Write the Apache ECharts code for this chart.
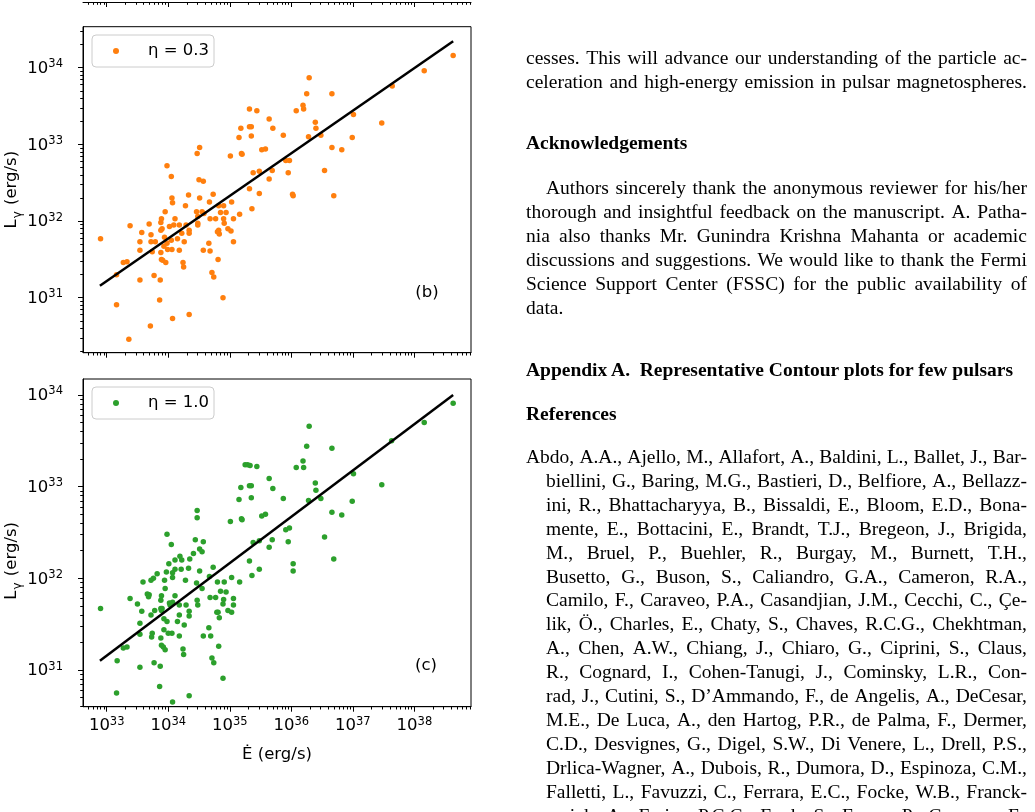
<!DOCTYPE html>
<html>
<head>
<meta charset="utf-8">
<title>Lgamma vs Edot</title>
<script src="https://cdn.jsdelivr.net/npm/echarts@6/dist/echarts.min.js"></script>
<style>
  body { margin: 0; background: #fff; }
  #page { position: relative; width: 1035px; height: 812px; overflow: hidden; }
  #chart { position: absolute; left: 0; top: 0; width: 1035px; height: 812px; }
  .ln { position: absolute; font-family: "Liberation Serif", serif; font-size: 19.5px; line-height: 24px; color: #000; white-space: pre; }
  .ln.j { display: flex; justify-content: space-between; }
  .ln.b { font-weight: bold; }
</style>
</head>
<body>
<div id="page">
  <div id="chart"></div>
</div>
<script>
// log10 of Edot (erg/s) and L_gamma (erg/s), panel (b) eta = 0.3
const logEdotB = [
  38.63, 38.16, 37.64, 37.47, 37.01, 36.99, 36.82, 36.66, 36.69, 36.54,
  36.66, 36.29, 36.25, 36.19, 36.20, 36.08, 36.39, 36.40, 36.28, 36.48,
  35.87, 35.70, 35.64, 35.44, 35.32, 35.32, 35.35, 35.18, 35.15, 35.35,
  35.52, 35.58, 35.19, 35.20, 35.01, 35.91, 35.97, 35.95, 35.69, 35.64,
  35.48, 35.38, 35.48, 35.32, 35.36, 36.02, 36.03, 35.16, 35.06, 35.03,
  35.02, 35.06, 34.97, 34.91, 34.90, 34.94, 34.90, 34.85, 34.83, 34.82,
  34.80, 34.82, 34.77, 34.68, 34.73, 34.67, 34.55, 34.51, 34.46, 34.48,
  34.48, 34.48, 34.50, 34.57, 34.47, 34.51, 34.33, 34.28, 34.34, 34.34,
  34.29, 34.22, 34.18, 34.26, 34.18, 34.15, 34.11, 34.09, 34.06, 34.07,
  34.05, 33.98, 34.02, 34.05, 34.06, 33.99, 33.98, 33.94, 33.95, 33.88,
  33.89, 33.90, 33.88, 33.93, 33.88, 33.89, 33.91, 33.96, 33.87, 33.86,
  33.79, 33.72, 33.69, 33.72, 33.74, 33.57, 33.54, 33.54, 33.38, 33.77,
  33.54, 33.33, 33.27, 33.16, 32.90, 33.16, 33.36, 33.71, 34.07, 34.34,
  34.89, 34.66, 34.57, 34.68, 34.81, 34.71, 34.74, 34.24, 34.25, 34.58
];
const logLB = [
  34.16, 33.96, 33.76, 33.28, 33.39, 33.09, 32.93, 32.96, 32.33, 32.66,
  33.66, 33.87, 33.66, 33.51, 33.46, 33.44, 33.29, 33.21, 33.10, 33.12,
  33.12, 33.21, 33.33, 33.44, 33.46, 33.23, 33.23, 33.21, 33.09, 33.11,
  32.93, 32.94, 32.88, 32.87, 32.85, 32.79, 32.79, 32.63, 32.66, 32.55,
  32.65, 32.63, 32.36, 32.42, 32.16, 32.35, 32.33, 32.09, 32.03, 32.25,
  31.87, 31.73, 31.90, 31.97, 32.03, 32.11, 32.20, 32.11, 31.83, 31.88,
  31.86, 32.20, 32.03, 32.03, 32.35, 32.25, 32.12, 32.30, 32.12, 32.06,
  31.97, 31.95, 32.54, 32.52, 32.88, 32.96, 32.34, 32.20, 31.88, 31.84,
  31.95, 31.84, 31.95, 31.73, 31.62, 31.77, 32.03, 31.95, 32.30, 32.24,
  32.58, 32.72, 31.93, 31.75, 31.63, 31.63, 31.71, 31.79, 32.12, 31.98,
  32.03, 31.90, 31.88, 31.67, 31.59, 31.50, 31.49, 31.46, 31.23, 30.97,
  31.73, 31.82, 31.96, 31.73, 31.60, 31.85, 31.73, 31.62, 31.94, 31.29,
  31.23, 31.47, 31.46, 31.30, 31.77, 30.91, 30.46, 30.63, 30.73, 30.78,
  31.00, 31.71, 31.62, 31.61, 31.50, 31.33, 31.27, 31.46, 31.40, 32.10
];

// panel (c) eta = 1.0
const logEdotC = [
  38.63, 38.16, 37.63, 37.47, 37.01, 36.99, 36.82, 36.66, 36.69, 36.54,
  36.66, 36.29, 36.25, 36.19, 36.20, 36.08, 36.39, 36.40, 36.28, 36.48,
  35.87, 35.70, 35.64, 35.44, 35.25, 35.29, 35.33, 35.32, 35.35, 35.18,
  35.15, 35.35, 35.52, 35.58, 35.19, 35.20, 35.01, 35.91, 35.97, 35.95,
  35.69, 35.64, 35.48, 35.38, 35.48, 35.32, 35.36, 36.03, 36.03, 35.16,
  35.03, 35.06, 35.06, 35.03, 34.97, 34.94, 34.91, 34.90, 34.89, 34.85,
  34.80, 34.83, 34.79, 34.81, 34.77, 34.68, 34.73, 34.67, 34.57, 34.55,
  34.51, 34.44, 34.41, 34.47, 34.47, 34.51, 34.46, 34.55, 34.47, 34.48,
  34.35, 34.33, 34.28, 34.34, 34.34, 34.29, 34.22, 34.19, 34.21, 34.18,
  34.15, 34.18, 34.26, 34.18, 34.11, 34.11, 34.11, 34.07, 34.07, 34.07,
  34.05, 34.01, 33.98, 33.97, 33.94, 33.95, 34.02, 34.03, 34.06, 34.00,
  33.98, 33.93, 33.89, 33.88, 33.90, 33.88, 33.89, 33.93, 33.89, 33.92,
  33.95, 33.88, 33.82, 33.76, 33.72, 33.69, 33.66, 33.68, 33.78, 33.72,
  33.74, 33.73, 33.50, 33.57, 33.59, 33.38, 33.54, 33.54, 33.77, 33.54,
  33.33, 33.27, 33.17, 32.90, 33.16, 33.87, 33.86, 34.07, 34.34, 34.89,
  34.66, 34.57, 34.69, 34.82, 34.71, 34.74, 34.24, 34.25
];
const logLC = [
  33.91, 33.70, 33.50, 33.02, 33.14, 32.84, 32.69, 32.72, 32.21, 32.45,
  33.42, 33.66, 33.44, 33.28, 33.21, 33.21, 33.04, 32.96, 32.85, 32.87,
  32.87, 32.98, 33.09, 33.22, 33.24, 33.24, 33.23, 33.01, 33.01, 32.99,
  32.86, 32.88, 32.68, 32.70, 32.65, 32.64, 32.62, 32.53, 32.55, 32.40,
  32.42, 32.34, 32.41, 32.39, 32.10, 32.19, 32.03, 32.16, 32.08, 31.96,
  32.01, 31.78, 31.71, 31.63, 31.65, 31.85, 31.96, 31.77, 31.72, 31.86,
  31.96, 31.57, 31.63, 31.63, 31.79, 31.79, 32.12, 32.02, 32.40, 32.29,
  32.32, 32.42, 32.27, 32.74, 32.66, 32.08, 31.95, 31.89, 31.76, 31.71,
  32.21, 32.11, 31.98, 31.64, 31.59, 31.71, 32.20, 32.24, 32.10, 31.71,
  31.53, 31.60, 31.49, 31.37, 32.20, 32.10, 31.81, 32.06, 32.01, 31.74,
  32.37, 32.16, 32.48, 32.07, 31.98, 31.89, 31.73, 31.71, 31.40, 31.40,
  31.53, 31.56, 31.81, 31.76, 31.67, 31.67, 31.65, 31.44, 31.27, 31.25,
  31.22, 31.35, 32.05, 32.00, 31.98, 31.82, 31.83, 31.80, 31.65, 31.60,
  31.40, 31.36, 31.72, 31.64, 31.96, 31.78, 31.51, 31.39, 31.08, 31.03,
  31.25, 31.24, 31.10, 31.67, 30.75, 31.04, 30.82, 30.65, 30.72, 30.91,
  31.46, 31.37, 31.37, 31.26, 31.13, 31.08, 31.23, 31.17
];

// best-fit lines, end points
const fitB = [[32.89, 31.155], [38.63, 34.345]];
const fitC = [[32.89, 31.10], [38.63, 34.00]];

// tick exponents
const majorE = [33, 34, 35, 36, 37, 38];
const majorL = [31, 32, 33, 34];
const minorMult = [2, 3, 4, 5, 6, 7, 8, 9];

const seriesNames = ['η = 0.3', 'η = 1.0'];
const panelTags = ['(b)', '(c)'];

// axis extents (log10)
const X_RANGE = [32.615, 38.92];
const YB_RANGE = [30.283, 34.535];
const YC_RANGE = [30.6, 34.174];

const FONT = 'DejaVu Sans';
const FS = 16.5;

function pairs(xs, ys) {
  const n = Math.min(xs.length, ys.length);
  const out = [];
  for (let i = 0; i < n; i++) out.push([xs[i], ys[i]]);
  return out;
}

function minorTicks(range) {
  const out = [];
  for (let d = Math.floor(range[0]); d <= Math.ceil(range[1]); d++) {
    minorMult.forEach(m => {
      const v = d + Math.log10(m);
      if (v > range[0] && v < range[1]) out.push(v);
    });
  }
  return out;
}

const powRich = {
  b: { fontSize: FS, fontFamily: FONT, color: '#000', verticalAlign: 'bottom' },
  sup: { fontSize: 11.5, fontFamily: FONT, color: '#000', verticalAlign: 'bottom', padding: [0, 0, 7, 0] }
};
function powLabel(v) {
  return '{b|10}{sup|' + Math.round(v) + '}';
}

const tickLine = { color: '#000', width: 1 };

function xMajor(grid, showLabels, name) {
  return {
    type: 'value', gridIndex: grid, min: X_RANGE[0], max: X_RANGE[1], position: 'bottom',
    axisLine: { show: true, onZero: false, lineStyle: tickLine },
    axisTick: { show: true, length: 5, lineStyle: tickLine, customValues: majorE },
    axisLabel: { show: showLabels, customValues: majorE, margin: 9, formatter: powLabel, rich: powRich },
    splitLine: { show: false },
    name: name || '',
    nameLocation: 'middle',
    nameGap: 40,
    nameTextStyle: { fontSize: FS, fontFamily: FONT, color: '#000' }
  };
}
function xMinor(grid) {
  return {
    type: 'value', gridIndex: grid, min: X_RANGE[0], max: X_RANGE[1], position: 'bottom',
    axisLine: { show: false },
    axisTick: { show: true, length: 2.8, lineStyle: tickLine, customValues: minorTicks(X_RANGE) },
    axisLabel: { show: false },
    splitLine: { show: false }
  };
}
function yMajor(grid, range, namePad) {
  return {
    type: 'value', gridIndex: grid, min: range[0], max: range[1], position: 'left',
    axisLine: { show: true, onZero: false, lineStyle: tickLine },
    axisTick: { show: true, length: 5, lineStyle: tickLine, customValues: majorL },
    axisLabel: { customValues: majorL, margin: 20, formatter: powLabel, rich: powRich },
    splitLine: { show: false },
    name: '{a|L}{s|γ}{a| (erg/s)}',
    nameLocation: 'middle',
    nameGap: 57,
    nameTextStyle: {
      padding: namePad,
      rich: {
        a: { fontSize: FS, fontFamily: FONT, color: '#000', verticalAlign: 'top' },
        s: { fontSize: 12, fontFamily: FONT, color: '#000', verticalAlign: 'top', padding: [8, 1, 0, 1] }
      }
    }
  };
}
function yMinor(grid, range) {
  return {
    type: 'value', gridIndex: grid, min: range[0], max: range[1], position: 'left',
    axisLine: { show: false },
    axisTick: { show: true, length: 2.8, lineStyle: tickLine, customValues: minorTicks(range) },
    axisLabel: { show: false },
    splitLine: { show: false }
  };
}

function legendFor(name, top) {
  return {
    data: [name], left: 92, top: top, orient: 'vertical',
    icon: 'circle', itemWidth: 6, itemHeight: 6, itemGap: 0,
    padding: [7.5, 5, 7.5, 21],
    backgroundColor: 'rgba(255,255,255,0.8)', borderColor: '#cccccc', borderWidth: 1, borderRadius: 4,
    textStyle: { fontSize: FS, fontFamily: FONT, color: '#000', padding: [0, 0, 0, 24] },
    selectedMode: false
  };
}

const frame = { show: true, borderColor: '#000', borderWidth: 1, backgroundColor: '#fff' };

const option = {
  animation: false,
  textStyle: { fontFamily: FONT },
  grid: [
    { left: 83, top: 0, width: 388, height: 2, show: false },   // bottom edge of panel (a)
    Object.assign({ left: 83, top: 26.7, width: 388, height: 326 }, frame),
    Object.assign({ left: 83, top: 379, width: 388, height: 327.7 }, frame)
  ],
  xAxis: [
    xMajor(0, false), xMinor(0),
    xMajor(1, false), xMinor(1),
    xMajor(2, true, 'Ė (erg/s)'), xMinor(2)
  ],
  yAxis: [
    { type: 'value', gridIndex: 0, show: false, min: 0, max: 1 },
    yMajor(1, YB_RANGE, [0, 0, 0, 0]), yMinor(1, YB_RANGE),
    yMajor(2, YC_RANGE, [0, 36, 0, 0]), yMinor(2, YC_RANGE)
  ],
  legend: [legendFor(seriesNames[0], 35), legendFor(seriesNames[1], 387)],
  graphic: [
    { type: 'text', x: 427, y: 292.5, style: { text: panelTags[0], font: FS + 'px "' + FONT + '"', fill: '#000', align: 'center', verticalAlign: 'middle' } },
    { type: 'text', x: 426, y: 666, style: { text: panelTags[1], font: FS + 'px "' + FONT + '"', fill: '#000', align: 'center', verticalAlign: 'middle' } }
  ],
  series: [
    {
      type: 'scatter', name: seriesNames[0], xAxisIndex: 2, yAxisIndex: 1,
      data: pairs(logEdotB, logLB), symbolSize: 5.5,
      itemStyle: { color: '#ff7f0e', opacity: 1 }, z: 2
    },
    {
      type: 'line', name: 'fitB', xAxisIndex: 2, yAxisIndex: 1, data: fitB,
      symbol: 'none', lineStyle: { color: '#000', width: 2.5 }, z: 3, silent: true
    },
    {
      type: 'scatter', name: seriesNames[1], xAxisIndex: 4, yAxisIndex: 3,
      data: pairs(logEdotC, logLC), symbolSize: 5.5,
      itemStyle: { color: '#2ca02c', opacity: 1 }, z: 2
    },
    {
      type: 'line', name: 'fitC', xAxisIndex: 4, yAxisIndex: 3, data: fitC,
      symbol: 'none', lineStyle: { color: '#000', width: 2.5 }, z: 3, silent: true
    }
  ]
};

const chart = echarts.init(document.getElementById('chart'), null, { renderer: 'canvas' });
chart.setOption(option);

// right column text of the page
const refLines = [
  'Abdo, A.A., Ajello, M., Allafort, A., Baldini, L., Ballet, J., Bar-',
  'biellini, G., Baring, M.G., Bastieri, D., Belfiore, A., Bellazz-',
  'ini, R., Bhattacharyya, B., Bissaldi, E., Bloom, E.D., Bona-',
  'mente, E., Bottacini, E., Brandt, T.J., Bregeon, J., Brigida,',
  'M., Bruel, P., Buehler, R., Burgay, M., Burnett, T.H.,',
  'Busetto, G., Buson, S., Caliandro, G.A., Cameron, R.A.,',
  'Camilo, F., Caraveo, P.A., Casandjian, J.M., Cecchi, C., Çe-',
  'lik, Ö., Charles, E., Chaty, S., Chaves, R.C.G., Chekhtman,',
  'A., Chen, A.W., Chiang, J., Chiaro, G., Ciprini, S., Claus,',
  'R., Cognard, I., Cohen-Tanugi, J., Cominsky, L.R., Con-',
  'rad, J., Cutini, S., D’Ammando, F., de Angelis, A., DeCesar,',
  'M.E., De Luca, A., den Hartog, P.R., de Palma, F., Dermer,',
  'C.D., Desvignes, G., Digel, S.W., Di Venere, L., Drell, P.S.,',
  'Drlica-Wagner, A., Dubois, R., Dumora, D., Espinoza, C.M.,',
  'Falletti, L., Favuzzi, C., Ferrara, E.C., Focke, W.B., Franck-',
  'owiak, A., Freire, P.C.C., Funk, S., Fusco, P., Gargano, F.,'
];

const textLines = [
  { top: 45.5, x: 526, w: 501, j: true, t: 'cesses. This will advance our understanding of the particle ac-' },
  { top: 69.5, x: 526, w: 501, j: true, t: 'celeration and high-energy emission in pulsar magnetospheres.' },
  { top: 131, x: 526, b: true, t: 'Acknowledgements' },
  { top: 175.5, x: 546, w: 481, j: true, t: 'Authors sincerely thank the anonymous reviewer for his/her' },
  { top: 199.5, x: 526, w: 501, j: true, t: 'thorough and insightful feedback on the manuscript.  A. Patha-' },
  { top: 223.5, x: 526, w: 501, j: true, t: 'nia also thanks Mr.  Gunindra Krishna Mahanta or academic' },
  { top: 247.5, x: 526, w: 501, j: true, t: 'discussions and suggestions. We would like to thank the Fermi' },
  { top: 271.5, x: 526, w: 501, j: true, t: 'Science Support Center (FSSC) for the public availability of' },
  { top: 295.5, x: 526, t: 'data.' },
  { top: 358, x: 526, b: true, t: 'Appendix A.  Representative Contour plots for few pulsars' },
  { top: 401.5, x: 526, b: true, t: 'References' }
];
refLines.forEach((t, i) => {
  textLines.push({ top: 445 + i * 23.9, x: i === 0 ? 526 : 546, w: i === 0 ? 501 : 481, j: true, t: t });
});

const page = document.getElementById('page');
textLines.forEach(l => {
  const div = document.createElement('div');
  div.className = 'ln' + (l.j ? ' j' : '') + (l.b ? ' b' : '');
  div.style.top = l.top + 'px';
  div.style.left = l.x + 'px';
  if (l.w) div.style.width = l.w + 'px';
  if (l.j) {
    l.t.split(/ +/).forEach(word => {
      const s = document.createElement('span');
      s.textContent = word;
      div.appendChild(s);
    });
  } else {
    div.textContent = l.t;
  }
  page.appendChild(div);
});
</script>
</body>
</html>
